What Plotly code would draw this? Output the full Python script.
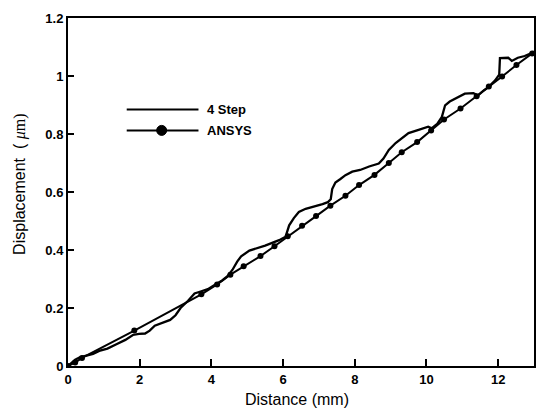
import plotly.graph_objects as go

# ---- data ----
step_x = [0, 0.1, 0.2, 0.33, 0.5, 0.7, 0.87, 1.1, 1.35, 1.6, 1.81, 1.98, 2.15, 2.28,
          2.42, 2.6, 2.85, 3.0, 3.14, 3.35, 3.53, 3.7, 3.9, 4.1, 4.3, 4.45, 4.59,
          4.72, 4.83, 5.06, 5.33, 5.5, 5.66, 5.89, 6.07, 6.17, 6.3, 6.44, 6.63,
          6.91, 7.1, 7.25, 7.33, 7.37, 7.46, 7.6, 7.74, 7.93, 8.15, 8.4, 8.67,
          8.8, 8.95, 9.14, 9.35, 9.5, 9.78, 10.05, 10.15, 10.3, 10.43, 10.52,
          10.65, 10.8, 11.07, 11.31, 11.44, 11.6, 11.72, 11.91, 12.03, 12.05,
          12.28, 12.38, 12.55, 12.74, 12.97, 13.0]
step_y = [0, 0.01, 0.022, 0.03, 0.036, 0.042, 0.052, 0.06, 0.075, 0.09, 0.107, 0.111,
          0.112, 0.122, 0.139, 0.148, 0.159, 0.175, 0.2, 0.225, 0.25, 0.257, 0.265,
          0.28, 0.295, 0.31, 0.332, 0.36, 0.378, 0.398, 0.408, 0.415, 0.423, 0.434,
          0.446, 0.485, 0.51, 0.531, 0.542, 0.551, 0.558, 0.565, 0.575, 0.61, 0.633,
          0.645, 0.658, 0.67, 0.676, 0.688, 0.698, 0.715, 0.745, 0.769, 0.79, 0.803,
          0.814, 0.825, 0.82, 0.835, 0.859, 0.899, 0.912, 0.922, 0.939, 0.941, 0.933,
          0.95, 0.961, 0.984, 1.005, 1.062, 1.063, 1.052, 1.063, 1.069, 1.08, 1.083]

ansys_x = [0, 0.2, 0.39, 1.85, 3.72, 4.16, 4.53, 4.9, 5.37, 5.76, 6.13, 6.53, 6.92,
           7.32, 7.74, 8.12, 8.55, 8.95, 9.31, 9.74, 10.13, 10.49, 10.95, 11.4,
           11.74, 12.11, 12.51, 12.95]
ansys_y = [0, 0.012, 0.028, 0.122, 0.247, 0.281, 0.315, 0.344, 0.379, 0.413, 0.447,
           0.484, 0.517, 0.553, 0.587, 0.624, 0.659, 0.70, 0.737, 0.772, 0.812, 0.85,
           0.888, 0.93, 0.964, 0.998, 1.038, 1.078]

x_ticks = [0, 2, 4, 6, 8, 10, 12]
x_long_ticks = [0, 4, 8, 12]
y_ticks = [0, 0.2, 0.4, 0.6, 0.8, 1.0, 1.2]
y_tick_labels = ["0", "0.2", "0.4", "0.6", "0.8", "1", "1.2"]

series_names = ["4 Step", "ANSYS"]

SANS = "Liberation Sans, Arial, sans-serif"

fig = go.Figure()
fig.add_trace(go.Scatter(x=step_x, y=step_y, mode="lines", name=series_names[0],
                         line=dict(color="black", width=2.3)))
fig.add_trace(go.Scatter(x=ansys_x, y=ansys_y, mode="lines+markers", name=series_names[1],
                         line=dict(color="black", width=2),
                         marker=dict(size=6, color="black")))

fig.update_layout(
    width=547, height=411,
    margin=dict(l=68, r=11, t=13, b=45),
    paper_bgcolor="white", plot_bgcolor="white",
    showlegend=False,
    font=dict(family=SANS, color="black"),
    xaxis=dict(range=[0, 13], tickvals=x_ticks, ticktext=[f"<b>{v}</b>" for v in x_ticks],
               ticks="inside", ticklen=7, tickwidth=2, tickcolor="black",
               showline=True, linewidth=2, linecolor="black", mirror=True,
               showgrid=False, zeroline=False,
               tickfont=dict(size=13, family=SANS)),
    xaxis2=dict(range=[0, 13], overlaying="x", anchor="y", side="bottom",
                tickvals=x_long_ticks, ticks="inside", ticklen=14, tickwidth=2,
                tickcolor="black", showticklabels=False, showline=False,
                showgrid=False, zeroline=False),
    yaxis=dict(range=[0, 1.2], tickvals=y_ticks,
               ticktext=[f"<b>{t}</b>" for t in y_tick_labels],
               ticks="inside", ticklen=6, tickwidth=2, tickcolor="black",
               showline=True, linewidth=2, linecolor="black", mirror=True,
               showgrid=False, zeroline=False,
               tickfont=dict(size=13, family=SANS)),
)

# axis titles
fig.add_annotation(text="Distance (mm)", xref="paper", yref="paper",
                   x=0.491, y=-0.096, xanchor="center", yanchor="middle",
                   showarrow=False, font=dict(size=16, family=SANS))
fig.add_annotation(text="Displacement  ( <span style='font-family:Liberation Serif'><i>μ</i>m)</span>",
                   xref="paper", yref="paper", x=-0.1026, y=0.521,
                   xanchor="center", yanchor="middle", textangle=-90,
                   showarrow=False, font=dict(size=16, family=SANS))

# legend (drawn manually to match the long sample lines)
leg_x0, leg_x1 = 0.126, 0.280
leg_y = [0.737, 0.677]
for yy in leg_y:
    fig.add_shape(type="line", xref="paper", yref="paper", x0=leg_x0, x1=leg_x1,
                  y0=yy, y1=yy, line=dict(color="black", width=2))
fig.add_shape(type="circle", xref="paper", yref="paper",
              xsizemode="pixel", ysizemode="pixel", xanchor=0.201, yanchor=leg_y[1],
              x0=-5, x1=5, y0=-5, y1=5, fillcolor="black", line=dict(color="black", width=1))
for name, yy in zip(series_names, leg_y):
    fig.add_annotation(text=f"<b>{name}</b>", xref="paper", yref="paper",
                       x=0.295, y=yy, xanchor="left", yanchor="middle",
                       showarrow=False, font=dict(size=13, family=SANS))

fig.write_html("out.html",
               config={"displayModeBar": False},
               post_script="document.body.style.margin='0';document.body.style.overflow='hidden';")
